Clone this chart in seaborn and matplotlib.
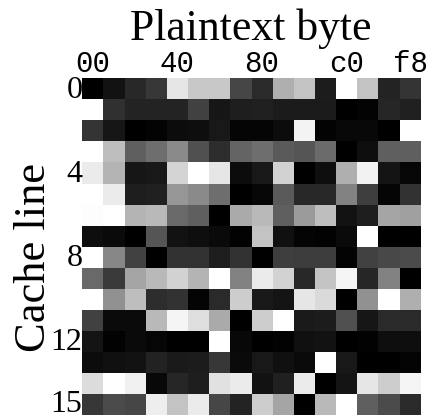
import matplotlib
matplotlib.use('Agg')
import matplotlib.pyplot as plt
from matplotlib.transforms import ScaledTranslation
import seaborn as sns
import numpy as np

# gray levels, one list per cache line
line_0 = [0, 18, 40, 55, 230, 200, 200, 70, 42, 175, 195, 28, 255, 195, 35, 52]
line_1 = [255, 48, 35, 35, 35, 65, 22, 30, 32, 27, 27, 27, 0, 3, 38, 32]
line_2 = [52, 22, 0, 3, 12, 14, 24, 5, 5, 12, 243, 3, 8, 8, 0, 255]
line_3 = [255, 190, 95, 110, 138, 80, 45, 100, 110, 90, 85, 107, 0, 14, 95, 95]
line_4 = [235, 180, 22, 24, 212, 255, 230, 12, 24, 210, 0, 14, 175, 242, 20, 6]
line_5 = [255, 235, 30, 32, 150, 138, 110, 0, 6, 90, 40, 40, 130, 62, 5, 50]
line_6 = [253, 255, 180, 185, 105, 95, 0, 170, 185, 95, 155, 190, 18, 30, 165, 160]
line_7 = [14, 10, 0, 85, 18, 14, 10, 2, 195, 16, 4, 2, 10, 255, 0, 0]
line_8 = [255, 135, 65, 0, 50, 50, 30, 50, 0, 62, 60, 60, 3, 65, 72, 75]
line_9 = [105, 58, 165, 185, 210, 180, 255, 130, 235, 210, 40, 195, 245, 38, 130, 0]
line_10 = [255, 145, 190, 45, 50, 4, 42, 205, 25, 20, 230, 218, 0, 145, 255, 175]
line_11 = [65, 10, 10, 185, 245, 222, 170, 0, 205, 255, 26, 28, 80, 22, 42, 42]
line_12 = [20, 2, 10, 6, 0, 0, 255, 8, 0, 2, 16, 18, 0, 2, 14, 14]
line_13 = [12, 16, 18, 34, 26, 28, 55, 10, 24, 16, 10, 255, 24, 0, 0, 4]
line_14 = [220, 255, 240, 8, 38, 30, 225, 235, 18, 32, 235, 0, 20, 230, 205, 245]
line_15 = [55, 75, 70, 238, 195, 235, 70, 35, 205, 165, 0, 185, 255, 95, 75, 42]

x_labels = ['00', '40', '80', 'c0', 'f8']
x_label_cols = [0, 4, 8, 12, 15]
y_labels = ['0', '4', '8', '12', '15']
y_label_rows = [0, 4, 8, 12, 15]

grid = np.array([line_0, line_1, line_2, line_3, line_4, line_5, line_6, line_7,
                 line_8, line_9, line_10, line_11, line_12, line_13, line_14, line_15])

fig = plt.figure(figsize=(4.28, 4.18), dpi=100)
ax = fig.add_axes([82.3 / 428, 1 - 415 / 418, 338.4 / 428, 336.7 / 418])

sns.heatmap(grid, cmap='gray', vmin=0, vmax=255, cbar=False, ax=ax)

ax.xaxis.tick_top()
ax.set_xticks([c + 0.5 for c in x_label_cols])
ax.set_xticklabels(x_labels, family='Liberation Mono', fontsize=21, rotation=0)
ax.set_yticks([r + 0.5 for r in y_label_rows])
ax.set_yticklabels(y_labels, family='Liberation Serif', fontsize=23, rotation=0)
ax.tick_params(axis='x', length=0, pad=0.5)
ax.tick_params(axis='y', length=0, pad=0)

# the row labels sit a little below the middle of their cells, except the last
shift_down = ScaledTranslation(0, -1.5 / 100, fig.dpi_scale_trans)
for label in ax.get_yticklabels()[:-1]:
    label.set_transform(label.get_transform() + shift_down)

fig.text(250.5 / 428, 1 - 29 / 418, 'Plaintext byte', family='Liberation Serif', fontsize=31.5,
         ha='center', va='center')
fig.text(34 / 428, 1 - 257 / 418, 'Cache line', family='Liberation Serif', fontsize=32,
         rotation=90, ha='center', va='center')

fig.savefig('out.png', dpi=100)
